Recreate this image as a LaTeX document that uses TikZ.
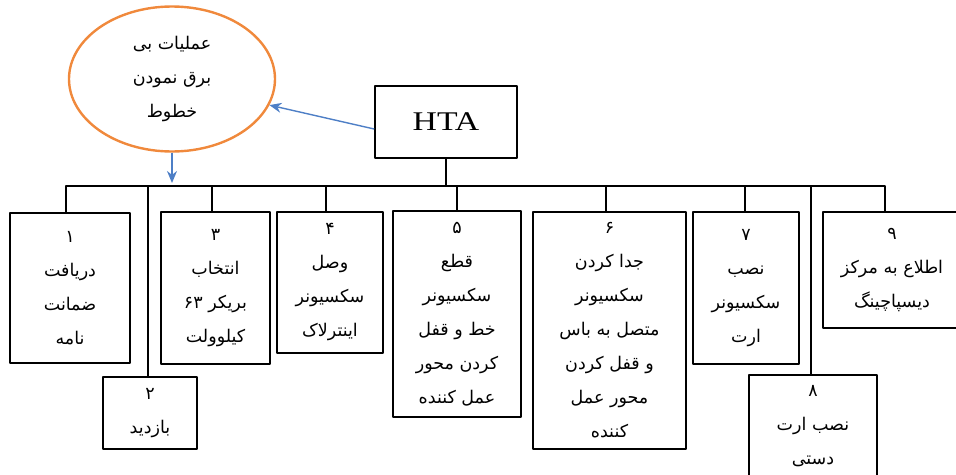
\documentclass[tikz,border=0pt]{standalone}
\usepackage{fontspec}
\newfontfamily\arabicfont[Script=Arabic]{DejaVu Sans}
\newfontfamily\htafont{Liberation Serif}
\TeXXeTstate=1
\usetikzlibrary{shapes.geometric, arrows.meta}
\newcommand{\fa}[1]{\beginR #1\endR}
\definecolor{ellorange}{HTML}{F0893C}
\definecolor{arrowblue}{HTML}{4E7FC6}
\tikzset{
  taskbox/.style={draw, line width=1.7pt, inner sep=0pt, align=center,
    font=\arabicfont\fontsize{17.5}{34}\selectfont},
  link/.style={line width=1.7pt},
  bluearrow/.style={-{Stealth[length=12pt, width=10pt]}, draw=arrowblue, fill=arrowblue, line width=1.4pt},
}
\begin{document}
\begin{tikzpicture}[x=1pt, y=-1pt, line join=round]
  \useasboundingbox (0,0) rectangle (956,474);
  \clip (0,0) rectangle (956,474);
  \coordinate (bus) at (0,186);
  % root and goal
  \node[draw, line width=1.7pt, minimum width=142, minimum height=72,
    font=\htafont\fontsize{27}{27}\selectfont] (hta) at (446,122) {\scalebox{1.25}[1]{HTA}};
  \node[ellipse, draw=ellorange, line width=2.4pt, minimum width=206, minimum height=145,
    align=center, font=\arabicfont\fontsize{17.5}{34}\selectfont] (goal) at (172,79)
    {\fa{عملیات بی}\\\fa{برق نمودن}\\\fa{خطوط}};
  % sub-tasks
  \node[taskbox, minimum width=120, minimum height=150] (b1) at (70,288)
    {\fa{۱}\\\fa{دریافت}\\\fa{ضمانت}\\\fa{نامه}};
  \node[taskbox, minimum width=94, minimum height=72] (b2) at (150,413)
    {\fa{۲}\\\fa{بازدید}};
  \node[taskbox, minimum width=109, minimum height=152] (b3) at (215.5,288)
    {\fa{۳}\\\fa{انتخاب}\\\fa{بریکر ۶۳}\\\fa{کیلوولت}};
  \node[taskbox, minimum width=106, minimum height=141] (b4) at (330,282.5)
    {\fa{۴}\\\fa{وصل}\\\fa{سکسیونر}\\\fa{اینترلاک}};
  \node[taskbox, minimum width=128, minimum height=206] (b5) at (457,314)
    {\fa{۵}\\\fa{قطع}\\\fa{سکسیونر}\\\fa{خط و قفل}\\\fa{کردن محور}\\\fa{عمل کننده}};
  \node[taskbox, minimum width=153, minimum height=237] (b6) at (609.5,330.5)
    {\fa{۶}\\\fa{جدا کردن}\\\fa{سکسیونر}\\\fa{متصل به باس}\\\fa{و قفل کردن}\\\fa{محور عمل}\\\fa{کننده}};
  \node[taskbox, minimum width=106, minimum height=152] (b7) at (746,288)
    {\fa{۷}\\\fa{نصب}\\\fa{سکسیونر}\\\fa{ارت}};
  \node[taskbox, minimum width=128, minimum height=103] (b8) at (813,426.5)
    {\fa{۸}\\\fa{نصب ارت}\\\fa{دستی}};
  \node[taskbox, minimum width=138, minimum height=116] (b9) at (892,270)
    {\fa{۹}\\\fa{اطلاع به مرکز}\\\fa{دیسپاچینگ}};
  % tree lines
  \foreach \n/\dx in {1/-4,2/-2,3/-3.5,4/-4,5/0,6/-3.5,7/-1,8/-2,9/-7}
    \path ([xshift=\dx pt]b\n.north) coordinate (s\n);
  \draw[link] (s1) |- (bus -| s9) -- (s9);
  \foreach \n in {2,...,8}
    \draw[link] (s\n) -- (s\n |- bus);
  \draw[link] (hta.south) -- (hta.south |- bus);
  % arrows
  \draw[bluearrow] ([yshift=-7pt]hta.west) -- (goal.-15);
  \draw[bluearrow] (goal.south) -- ([yshift=3pt]goal.south |- bus);
\end{tikzpicture}
\end{document}
